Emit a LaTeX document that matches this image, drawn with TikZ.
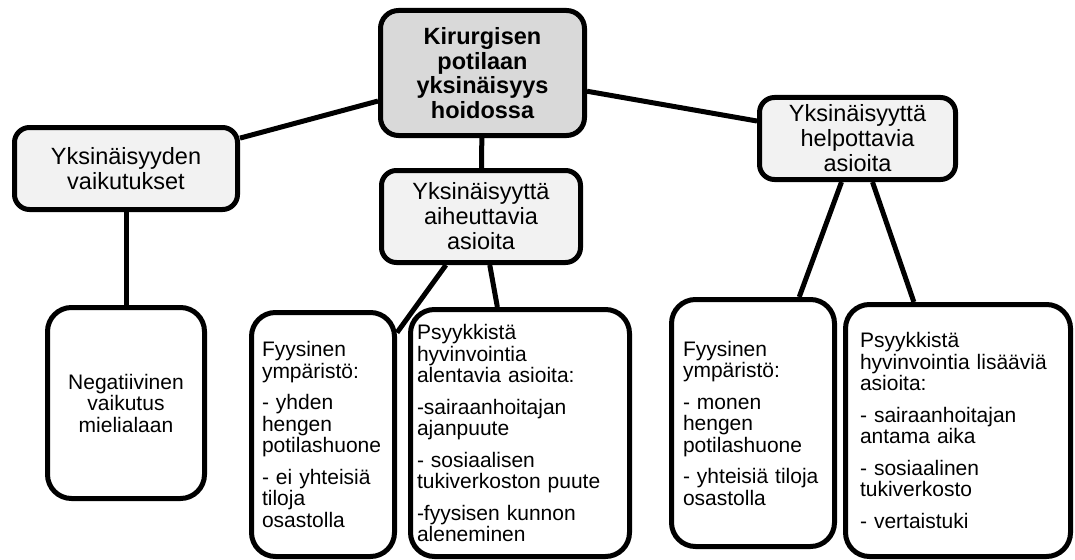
\documentclass[tikz,border=0pt]{standalone}
\usepackage{fontspec}
\setmainfont{Liberation Sans}
\usepackage{tikz}

\definecolor{rootgray}{HTML}{D9D9D9}
\definecolor{topicgray}{HTML}{F2F2F2}

\begin{document}
\begin{tikzpicture}[x=1pt, y=-1pt, line width=5pt,
    mainbox/.style={draw, fill=rootgray, rounded corners=18pt, inner sep=0pt, align=center, font=\fontsize{23.5}{24.5}\selectfont\bfseries},
    topicbox/.style={draw, fill=topicgray, rounded corners=15pt, inner sep=0pt, align=center, font=\fontsize{23.5}{25}\selectfont},
    leafbox/.style={draw, fill=white, rounded corners=24pt, inner sep=0pt, align=left, font=\fontsize{21}{21.5}\selectfont}]
        \useasboundingbox (0, 0) rectangle (1075, 559);

        \node[mainbox, minimum width=204pt, minimum height=125pt] at (482.5, 73) (root) {Kirurgisen\\potilaan\\yksinäisyys\\hoidossa};
        \node[topicbox, minimum width=223pt, minimum height=82pt] at (126, 168.5) (vaik) {Yksinäisyyden\\vaikutukset};
        \node[topicbox, minimum width=199pt, minimum height=92pt] at (481, 216.5) (aiheut) {Yksinäisyyttä\\aiheuttavia\\asioita};
        \node[topicbox, minimum width=196pt, minimum height=82pt] at (857.5, 138.5) (helpot) {Yksinäisyyttä\\helpottavia\\asioita};

        \node[leafbox, align=center, minimum width=157pt, minimum height=191pt] at (126, 403) (neg) {Negatiivinen\\vaikutus\\mielialaan};
        \node[leafbox, text width=122pt, minimum width=143pt, minimum height=244pt] at (323, 434.5) (fyysA) {Fyysinen\\ympäristö:\\[10pt]- yhden\\hengen\\potilashuone\\[10pt]- ei yhteisiä\\tiloja\\osastolla};
        \node[leafbox, text width=206pt, minimum width=219pt, minimum height=247pt] at (520, 433) (psyA) {Psyykkistä\\hyvinvointia\\alentavia asioita:\\[10pt]-sairaanhoitajan\\ajanpuute\\[10pt]- sosiaalisen\\tukiverkoston puute\\[10pt]-fyysisen kunnon\\aleneminen};
        \node[leafbox, text width=140pt, minimum width=163pt, minimum height=247pt] at (753, 423) (fyysB) {Fyysinen\\ympäristö:\\[10pt]- monen\\hengen\\potilashuone\\[10pt]- yhteisiä tiloja\\osastolla};
        \node[leafbox, text width=196pt, minimum width=225pt, minimum height=252pt] at (958, 430.5) (psyB) {Psyykkistä\\hyvinvointia lisääviä\\asioita:\\[10pt]- sairaanhoitajan\\antama aika\\[10pt]- sosiaalinen\\tukiverkosto\\[10pt]- vertaistuki};

        \draw (root) -- (vaik);
        \draw (root) -- (aiheut);
        \draw (root) -- (helpot);
        \draw (vaik) -- (neg);
        \draw (aiheut) -- (fyysA);
        \draw (aiheut) -- (psyA);
        \draw (helpot) -- (fyysB);
        \draw (helpot) -- (psyB);
    \end{tikzpicture}
\end{document}
